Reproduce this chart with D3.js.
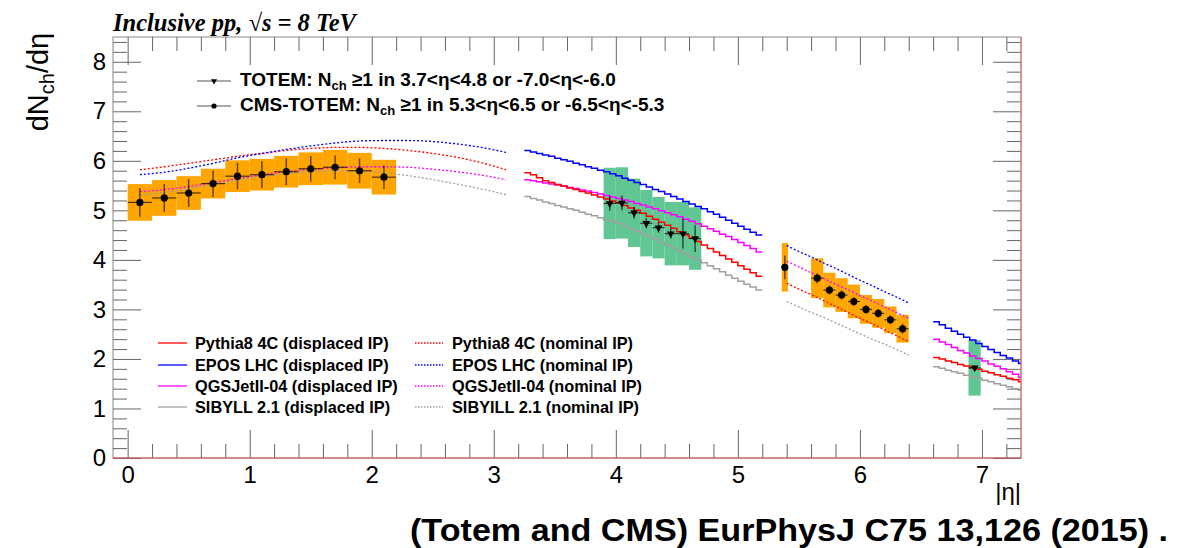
<!DOCTYPE html>
<html>
<head>
<meta charset="utf-8">
<script src="https://cdn.jsdelivr.net/npm/d3@7"></script>
<style>
  html, body { margin: 0; padding: 0; background: #fff; }
</style>
</head>
<body>
<svg id="chart" width="1184" height="548" font-family="Liberation Sans, Arial, Helvetica, sans-serif"></svg>
<script>
// ---- Measurements: CMS-TOTEM, central region (bin width 0.2) ----
const etaLow  = [0.1, 0.3, 0.5, 0.7, 0.9, 1.1, 1.3, 1.5, 1.7, 1.9, 2.1];
const dNLow   = [5.16, 5.25, 5.35, 5.54, 5.69, 5.72, 5.78, 5.84, 5.87, 5.80, 5.67];
const statLow = [0.29, 0.28, 0.28, 0.27, 0.27, 0.27, 0.27, 0.26, 0.24, 0.25, 0.24];
const sysLow  = [0.37, 0.36, 0.34, 0.30, 0.32, 0.32, 0.32, 0.33, 0.35, 0.36, 0.35];

// ---- TOTEM T1 (bin width 0.1) ----
const etaT1   = [3.95, 4.05, 4.15, 4.25, 4.35, 4.45, 4.55, 4.65];
const dNT1    = [5.14, 5.15, 4.95, 4.74, 4.65, 4.53, 4.53, 4.43];
const statT1  = [0.15, 0.15, 0.12, 0.10, 0.10, 0.10, 0.30, 0.27];
const sysT1   = [0.72, 0.72, 0.69, 0.67, 0.62, 0.64, 0.64, 0.63];

// ---- CMS-TOTEM forward region ----
const etaHigh  = [5.385, 5.65, 5.75, 5.85, 5.95, 6.05, 6.15, 6.25, 6.35];
const halfHigh = [0.025, 0.05, 0.05, 0.05, 0.05, 0.05, 0.05, 0.05, 0.05];
const dNHigh   = [3.85, 3.63, 3.39, 3.29, 3.16, 3.00, 2.92, 2.79, 2.61];
const statHigh = [0.24, 0.10, 0.09, 0.09, 0.09, 0.09, 0.09, 0.09, 0.10];
const sysHigh  = [0.49, 0.40, 0.35, 0.34, 0.34, 0.29, 0.29, 0.27, 0.28];

// ---- TOTEM T2 ----
const etaT2  = [6.94];
const dNT2   = [1.82];
const statT2 = [0.05];
const sysT2  = [0.56];

// ---- Generator predictions, nominal IP (dotted) ----
const etaNomA = [0.1, 0.3, 0.5, 0.7, 0.9, 1.1, 1.3, 1.5, 1.7, 1.9, 2.1, 2.3, 2.5, 2.7, 2.9, 3.1];
const pythiaNomA = [5.82, 5.88, 5.95, 6.02, 6.09, 6.15, 6.21, 6.25, 6.27, 6.27, 6.25, 6.21, 6.15, 6.07, 5.96, 5.82];
const eposNomA   = [5.72, 5.77, 5.85, 5.95, 6.06, 6.15, 6.23, 6.30, 6.36, 6.40, 6.41, 6.41, 6.39, 6.34, 6.27, 6.17];
const qgsNomA    = [5.38, 5.42, 5.48, 5.56, 5.64, 5.72, 5.78, 5.83, 5.86, 5.88, 5.88, 5.87, 5.83, 5.78, 5.71, 5.62];
const sibNomA    = [5.30, 5.36, 5.44, 5.52, 5.61, 5.68, 5.74, 5.78, 5.80, 5.79, 5.76, 5.70, 5.62, 5.53, 5.43, 5.32];

const etaNomB = [5.4, 5.5, 5.6, 5.7, 5.8, 5.9, 6.0, 6.1, 6.2, 6.3, 6.4];
const pythiaNomB = [3.53, 3.41, 3.30, 3.18, 3.06, 2.94, 2.82, 2.71, 2.59, 2.47, 2.35];
const eposNomB   = [4.29, 4.17, 4.06, 3.94, 3.83, 3.71, 3.59, 3.48, 3.36, 3.25, 3.13];
const qgsNomB    = [3.97, 3.86, 3.74, 3.63, 3.51, 3.40, 3.28, 3.17, 3.05, 2.94, 2.82];
const sibNomB    = [3.16, 3.05, 2.94, 2.84, 2.73, 2.62, 2.51, 2.40, 2.30, 2.19, 2.08];

// ---- Generator predictions, displaced IP (histograms, bin width 0.05) ----
const binW = 0.05;
const edgeDispA = 3.25;   // first bin low edge, T1 range
const pythiaDispA = [5.76, 5.72, 5.66, 5.60, 5.56, 5.52, 5.49, 5.45, 5.42, 5.38, 5.35, 5.31, 5.27, 5.23, 5.19, 5.15, 5.10, 5.05, 5.00, 4.94,
                     4.88, 4.82, 4.76, 4.70, 4.64, 4.57, 4.50, 4.44, 4.37, 4.30, 4.23, 4.16, 4.09, 4.02, 3.95, 3.88, 3.81, 3.74, 3.67];
const eposDispA   = [6.21, 6.18, 6.15, 6.12, 6.09, 6.05, 6.02, 5.99, 5.95, 5.92, 5.88, 5.85, 5.81, 5.78, 5.74, 5.70, 5.65, 5.61, 5.56, 5.52,
                     5.47, 5.42, 5.38, 5.33, 5.28, 5.23, 5.18, 5.13, 5.08, 5.03, 4.97, 4.92, 4.86, 4.80, 4.74, 4.68, 4.62, 4.56, 4.50];
const qgsDispA    = [5.62, 5.60, 5.58, 5.55, 5.53, 5.51, 5.49, 5.46, 5.44, 5.41, 5.39, 5.36, 5.33, 5.30, 5.27, 5.24, 5.21, 5.18, 5.14, 5.11,
                     5.07, 5.03, 4.99, 4.95, 4.91, 4.87, 4.82, 4.78, 4.73, 4.68, 4.63, 4.58, 4.52, 4.47, 4.41, 4.35, 4.29, 4.23, 4.16];
const sibDispA    = [5.28, 5.24, 5.21, 5.17, 5.14, 5.10, 5.07, 5.03, 5.00, 4.96, 4.92, 4.89, 4.85, 4.81, 4.78, 4.74, 4.69, 4.63, 4.58, 4.52,
                     4.47, 4.41, 4.35, 4.30, 4.24, 4.18, 4.12, 4.06, 4.00, 3.94, 3.88, 3.82, 3.76, 3.69, 3.63, 3.57, 3.51, 3.45, 3.39];

const edgeDispB = 6.60;   // first bin low edge, T2 range
const pythiaDispB = [2.03, 2.00, 1.96, 1.93, 1.89, 1.86, 1.82, 1.79, 1.75, 1.72, 1.68, 1.65, 1.61, 1.58, 1.54];
const eposDispB   = [2.75, 2.69, 2.62, 2.56, 2.50, 2.44, 2.38, 2.31, 2.25, 2.19, 2.13, 2.07, 2.02, 1.96, 1.91];
const qgsDispB    = [2.40, 2.34, 2.29, 2.23, 2.17, 2.12, 2.06, 2.01, 1.96, 1.90, 1.85, 1.80, 1.74, 1.69, 1.63];
const sibDispB    = [1.84, 1.81, 1.77, 1.74, 1.71, 1.67, 1.64, 1.61, 1.57, 1.54, 1.50, 1.47, 1.44, 1.40, 1.37];

// ---- Text ----
const yTicks = [0, 1, 2, 3, 4, 5, 6, 7, 8];
const xTicks = [0, 1, 2, 3, 4, 5, 6, 7];
const modelNames = ["Pythia8 4C", "EPOS LHC", "QGSJetII-04", "SIBYLL 2.1"];
const modelNamesNominal = ["Pythia8 4C", "EPOS LHC", "QGSJetII-04", "SIBYILL 2.1"];
const modelColors = ["#ff0000", "#0000ff", "#ff00ff", "#a0a0a0"];

// ---------------------------------------------------------------
const SANS = "Liberation Sans, Arial, Helvetica, sans-serif";
const svg = d3.select("#chart");
const L = 113, R = 1021, T = 37, B = 458;

const x = d3.scaleLinear().domain([-0.12, 7.32]).range([L, R]);
const y = d3.scaleLinear().domain([0, 8.5]).range([B, T]);

const defs = svg.append("defs");
defs.append("clipPath").attr("id", "plotClip")
  .append("rect").attr("x", L).attr("y", T).attr("width", R - L).attr("height", B - T);

// Frame
svg.append("rect").attr("x", L).attr("y", T).attr("width", R - L).attr("height", B - T)
  .attr("fill", "none").attr("stroke", "#8a8a8a").attr("stroke-width", 1);

const tickColor = "#666";
function styleAxis(g) {
  g.select(".domain").remove();
  g.selectAll(".tick line").attr("stroke", tickColor).attr("stroke-width", 1);
}

const minorX = d3.range(0, 7.3, 0.2).map(v => +v.toFixed(1)).filter(v => !xTicks.includes(v));
const minorY = d3.range(0, 8.5, 0.2).map(v => +v.toFixed(1)).filter(v => !yTicks.includes(v));

// Left axis: ticks pointing into the frame
svg.append("g").attr("transform", `translate(${L},0)`)
  .call(d3.axisLeft(y).tickValues(yTicks).tickSize(-28).tickPadding(7).tickFormat(d3.format("d")))
  .call(styleAxis)
  .call(g => g.selectAll("text").attr("font-size", 24).attr("fill", "#000").attr("font-family", SANS));
svg.append("g").attr("transform", `translate(${L},0)`)
  .call(d3.axisLeft(y).tickValues(minorY).tickSize(-14).tickFormat(""))
  .call(styleAxis);

// Right axis (mirror ticks)
svg.append("g").attr("transform", `translate(${R},0)`)
  .call(d3.axisRight(y).tickValues(yTicks).tickSize(-28).tickFormat(""))
  .call(styleAxis);
svg.append("g").attr("transform", `translate(${R},0)`)
  .call(d3.axisRight(y).tickValues(minorY).tickSize(-14).tickFormat(""))
  .call(styleAxis);

// Bottom axis
svg.append("g").attr("transform", `translate(0,${B})`)
  .call(d3.axisBottom(x).tickValues(xTicks).tickSize(-28).tickPadding(8).tickFormat(d3.format("d")))
  .call(styleAxis)
  .call(g => g.selectAll("text").attr("font-size", 24).attr("fill", "#000").attr("font-family", SANS));
svg.append("g").attr("transform", `translate(0,${B})`)
  .call(d3.axisBottom(x).tickValues(minorX).tickSize(-14).tickFormat(""))
  .call(styleAxis);

// Top axis (mirror ticks)
svg.append("g").attr("transform", `translate(0,${T})`)
  .call(d3.axisTop(x).tickValues(xTicks).tickSize(-28).tickFormat(""))
  .call(styleAxis);
svg.append("g").attr("transform", `translate(0,${T})`)
  .call(d3.axisTop(x).tickValues(minorX).tickSize(-14).tickFormat(""))
  .call(styleAxis);

// ---- Systematic-uncertainty boxes ----
const plot = svg.append("g").attr("clip-path", "url(#plotClip)");
const hwOf = (halfW, i) => Array.isArray(halfW) ? halfW[i] : halfW;

function boxes(etas, halfW, vals, sys, color) {
  plot.append("g").selectAll("rect").data(etas).join("rect")
    .attr("x", (d, i) => x(d - hwOf(halfW, i)))
    .attr("width", (d, i) => x(d + hwOf(halfW, i)) - x(d - hwOf(halfW, i)))
    .attr("y", (d, i) => y(vals[i] + sys[i]))
    .attr("height", (d, i) => y(vals[i] - sys[i]) - y(vals[i] + sys[i]))
    .attr("fill", color);
}
boxes(etaLow, 0.1, dNLow, sysLow, "#ffa500");
boxes(etaHigh, halfHigh, dNHigh, sysHigh, "#ffa500");
boxes(etaT1, 0.05, dNT1, sysT1, "#60c794");
boxes(etaT2, 0.05, dNT2, sysT2, "#60c794");

// ---- Model curves ----
const smooth = d3.line().x(d => x(d[0])).y(d => y(d[1])).curve(d3.curveMonotoneX);
const steps = d3.line().x(d => x(d[0])).y(d => y(d[1])).curve(d3.curveStepAfter);

function histPoints(edge, vals) {
  const pts = vals.map((v, i) => [edge + i * binW, v]);
  pts.push([edge + vals.length * binW, vals[vals.length - 1]]);
  return pts;
}

const nomA = [pythiaNomA, eposNomA, qgsNomA, sibNomA];
const nomB = [pythiaNomB, eposNomB, qgsNomB, sibNomB];
const dispA = [pythiaDispA, eposDispA, qgsDispA, sibDispA];
const dispB = [pythiaDispB, eposDispB, qgsDispB, sibDispB];

[3, 2, 0, 1].forEach(k => {
  plot.append("path").attr("d", smooth(etaNomA.map((e, i) => [e, nomA[k][i]])))
    .attr("fill", "none").attr("stroke", modelColors[k]).attr("stroke-width", 1.3).attr("stroke-dasharray", "2,2");
  plot.append("path").attr("d", smooth(etaNomB.map((e, i) => [e, nomB[k][i]])))
    .attr("fill", "none").attr("stroke", modelColors[k]).attr("stroke-width", 1.3).attr("stroke-dasharray", "2,2");
  plot.append("path").attr("d", steps(histPoints(edgeDispA, dispA[k])))
    .attr("fill", "none").attr("stroke", modelColors[k]).attr("stroke-width", 1.5);
  plot.append("path").attr("d", steps(histPoints(edgeDispB, dispB[k])))
    .attr("fill", "none").attr("stroke", modelColors[k]).attr("stroke-width", 1.5);
});

// Red boundary lines of the Pythia8 histogram along the frame
svg.append("line").attr("x1", L).attr("x2", R).attr("y1", B).attr("y2", B)
  .attr("stroke", "#e05050").attr("stroke-width", 1.2);
svg.append("line").attr("x1", R).attr("x2", R).attr("y1", T).attr("y2", B)
  .attr("stroke", "#e87070").attr("stroke-width", 1.2);

// ---- Data points with statistical error bars ----
function points(etas, halfW, vals, stat, marker) {
  const g = svg.append("g");
  etas.forEach((e, i) => {
    const hw = hwOf(halfW, i);
    g.append("line").attr("x1", x(e)).attr("x2", x(e))
      .attr("y1", y(vals[i] - stat[i])).attr("y2", y(vals[i] + stat[i]))
      .attr("stroke", "#000").attr("stroke-opacity", 0.6).attr("stroke-width", 1.5);
    g.append("line").attr("x1", x(e - hw)).attr("x2", x(e + hw))
      .attr("y1", y(vals[i])).attr("y2", y(vals[i]))
      .attr("stroke", "#000").attr("stroke-opacity", 0.7).attr("stroke-width", 1.2);
    if (marker === "circle") {
      g.append("circle").attr("cx", x(e)).attr("cy", y(vals[i])).attr("r", 3.6).attr("fill", "#000");
    } else {
      g.append("path").attr("d", d3.symbol(d3.symbolTriangle, 26)())
        .attr("transform", `translate(${x(e)},${y(vals[i])}) rotate(180)`).attr("fill", "#000");
    }
  });
}
points(etaLow, 0.1, dNLow, statLow, "circle");
points(etaHigh, halfHigh, dNHigh, statHigh, "circle");
points(etaT1, 0.05, dNT1, statT1, "triangle");
points(etaT2, 0.05, dNT2, statT2, "triangle");

// ---- Upper legend (measurements) ----
const legTop = svg.append("g").attr("font-weight", "bold").attr("font-size", 19).attr("font-family", SANS);
[[81, "triangle"], [106, "circle"]].forEach(([ly, m]) => {
  legTop.append("line").attr("x1", 197).attr("x2", 231).attr("y1", ly).attr("y2", ly)
    .attr("stroke", "#555").attr("stroke-width", 1);
  if (m === "circle") legTop.append("circle").attr("cx", 214).attr("cy", ly).attr("r", 2.6).attr("fill", "#000");
  else legTop.append("path").attr("d", d3.symbol(d3.symbolTriangle, 16)())
    .attr("transform", `translate(214,${ly}) rotate(180)`).attr("fill", "#000");
});
function legendLine(yPos, label, sub, rest) {
  const t = legTop.append("text").attr("x", 240).attr("y", yPos).attr("fill", "#000");
  t.append("tspan").text(label);
  t.append("tspan").text(sub).attr("font-size", 13).attr("dy", 4);
  t.append("tspan").text(rest).attr("dy", -4);
}
legendLine(86, "TOTEM: N", "ch", " \u22651 in 3.7<\u03b7<4.8 or -7.0<\u03b7<-6.0");
legendLine(111, "CMS-TOTEM: N", "ch", " \u22651 in 5.3<\u03b7<6.5 or -6.5<\u03b7<-5.3");

// ---- Lower legend (models) ----
const legBot = svg.append("g").attr("font-weight", "bold").attr("font-size", 16.3)
  .attr("font-family", SANS).attr("fill", "#000");
const rowY = [343, 365, 386, 407];
modelNames.forEach((n, k) => {
  legBot.append("line").attr("x1", 158).attr("x2", 187).attr("y1", rowY[k]).attr("y2", rowY[k])
    .attr("stroke", modelColors[k]).attr("stroke-width", 1.3);
  legBot.append("text").attr("x", 195).attr("y", rowY[k] + 6).text(`${n} (displaced IP)`);
  legBot.append("line").attr("x1", 415).attr("x2", 443).attr("y1", rowY[k]).attr("y2", rowY[k])
    .attr("stroke", modelColors[k]).attr("stroke-width", 1.3).attr("stroke-dasharray", "1.5,1.5");
  legBot.append("text").attr("x", 452).attr("y", rowY[k] + 6).text(`${modelNamesNominal[k]} (nominal IP)`);
});

// ---- Titles ----
svg.append("text").attr("x", 113).attr("y", 31)
  .attr("font-family", "Liberation Serif, Times New Roman, serif")
  .attr("font-style", "italic").attr("font-weight", "bold").attr("font-size", 24.5)
  .text("Inclusive pp, \u221As = 8 TeV");

const yTitle = svg.append("text").attr("transform", "translate(48,82) rotate(-90)")
  .attr("text-anchor", "middle").attr("font-size", 29).attr("fill", "#000").attr("font-family", SANS);
yTitle.append("tspan").text("dN");
yTitle.append("tspan").text("ch").attr("font-size", 20).attr("dy", 6);
yTitle.append("tspan").text("/d\u03b7").attr("dy", -6);

svg.append("text").attr("x", 1021).attr("y", 500).attr("text-anchor", "end")
  .attr("font-size", 24).attr("font-family", SANS).text("|\u03b7|");

svg.append("text").attr("x", 410).attr("y", 541)
  .attr("font-weight", "bold").attr("font-size", 31).attr("font-family", SANS)
  .attr("textLength", 758).attr("lengthAdjust", "spacingAndGlyphs")
  .text("(Totem and CMS) EurPhysJ C75 13,126 (2015) .");
</script>
</body>
</html>
